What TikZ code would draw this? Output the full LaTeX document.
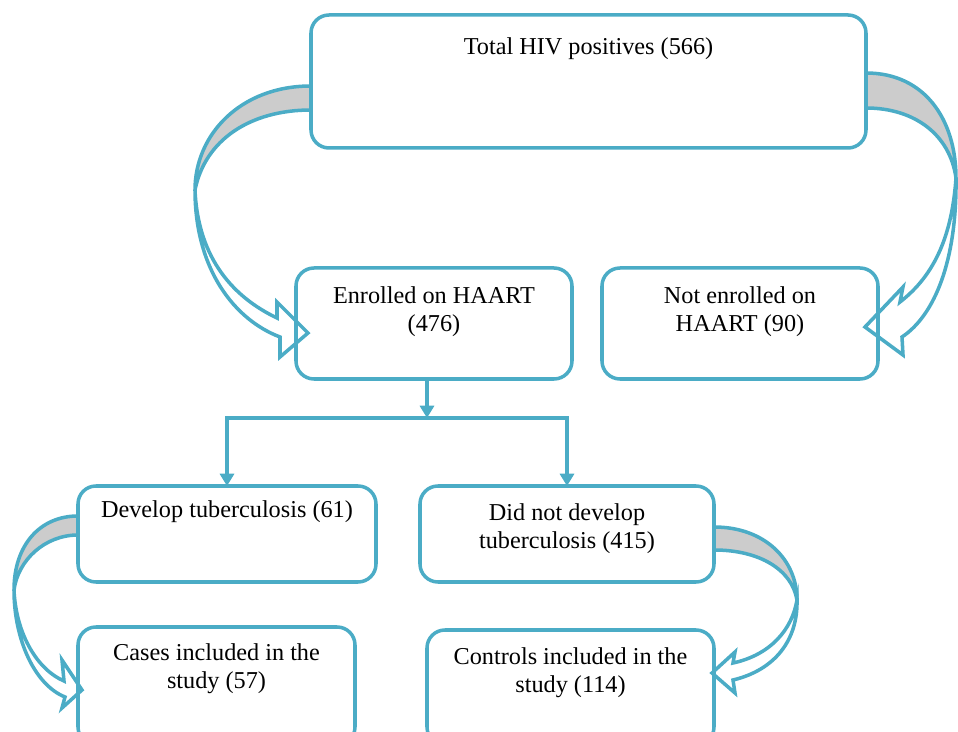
\documentclass[tikz,border=0pt]{standalone}
\usepackage{fontspec}
\setmainfont{Liberation Serif}
\usetikzlibrary{arrows.meta,backgrounds}
\definecolor{flowblue}{HTML}{4BACC6}
\definecolor{flowgray}{RGB}{204,204,204}
\newdimen\pxu \pxu=0.02cm
\newcommand{\boxtext}[4]{\parbox[c][#2\pxu][t]{#1\pxu}{\centering\vspace*{#3\pxu}\strut#4}}

\begin{document}
\begin{tikzpicture}[x=0.02cm,y=-0.02cm,
  box/.style={draw=flowblue,line width=2pt,rounded corners=0.36cm,inner sep=0pt,outer sep=0pt,font=\fontsize{13.8}{16}\selectfont},
  line/.style={draw=flowblue,line width=2.6pt},
  tip/.style={-{Triangle[width=8pt,length=7pt]}},
  curv/.style={draw=flowblue,line width=2pt,fill=white},
  back/.style={curv,fill=flowgray}]
\useasboundingbox (0,0) rectangle (958,732);
\node[box] (n0) at (588.5,81.5) {\boxtext{555}{133}{20}{Total HIV positives (566)}};
\node[box] (n1) at (434,323.5) {\boxtext{276}{111}{16}{Enrolled on HAART\\(476)}};
\node[box] (n2) at (740,323.5) {\boxtext{276}{111}{16}{Not enrolled on\\HAART (90)}};
\node[box] (n3) at (227,534) {\boxtext{298}{96}{12}{Develop tuberculosis (61)}};
\node[box] (n4) at (567,534) {\boxtext{294}{96}{15}{Did not develop\\tuberculosis (415)}};
\node[box] (n5) at (216.5,686) {\boxtext{277}{118}{14}{Cases included in the\\study (57)}};
\node[box] (n6) at (570.5,687.5) {\boxtext{287}{115}{15}{Controls included in the\\study (114)}};
\coordinate (j) at (427,418);
\draw[line,tip] (n1.south -| j) -- (j);
\draw[line,tip] (j) -| (n3);
\draw[line,tip] (j) -| (n4);
\begin{scope}[on background layer]
\draw[back] ([shift={(0,4.5)}]n0.west) .. controls (240,86) and (195,135) .. (195,190) .. controls (205,140) and (250,110) .. ([shift={(0,28.5)}]n0.west) -- cycle;
\draw[curv] (195,190) .. controls (195,270) and (235,320) .. (280,337) -- (280,357) -- ([shift={(12,9.5)}]n1.west) -- (277,302) -- (277,318) .. controls (235,298) and (198,260) .. (195,190) -- cycle;
\draw[back] ([shift={(0,-8.5)}]n0.east) .. controls (925,73) and (956,120) .. (956,178) .. controls (950,135) and (915,108) .. ([shift={(0,26.5)}]n0.east) -- cycle;
\draw[curv] (956,178) .. controls (957,260) and (935,315) .. (902,337) -- (903,355) -- ([shift={(-13,3.5)}]n2.east) -- (903,287) -- (900,302) .. controls (935,275) and (952,235) .. (956,178) -- cycle;
\draw[back] ([shift={(0,-18)}]n3.west) .. controls (40,516) and (14,545) .. (14,590) .. controls (18,560) and (45,535) .. ([shift={(0,1)}]n3.west) -- cycle;
\draw[curv] (14,590) .. controls (14,640) and (35,685) .. (65,697) -- (62,708) -- ([shift={(4,4)}]n5.west) -- (62,660) -- (64,681) .. controls (38,670) and (16,635) .. (14,590) -- cycle;
\draw[back] ([shift={(0,-7)}]n4.east) .. controls (765,527) and (797,560) .. (797,600) .. controls (792,570) and (760,550) .. ([shift={(0,16)}]n4.east) -- cycle;
\draw[curv] (797,600) .. controls (798,640) and (775,670) .. (733,680) -- (735,693) -- ([shift={(-2,-14.5)}]n6.east) -- (735,652) -- (733,663) .. controls (770,655) and (792,630) .. (797,600) -- cycle;
\end{scope}
\end{tikzpicture}
\end{document}
